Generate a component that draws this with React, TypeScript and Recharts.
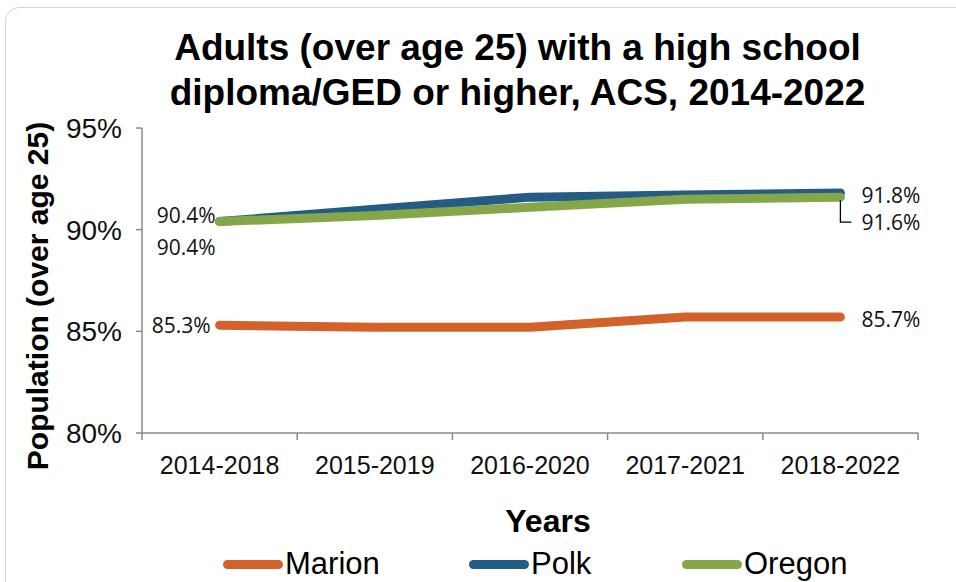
import React from 'react';
import { LineChart, Line, XAxis, YAxis, LabelList, Legend } from 'recharts';

const periods = ['2014-2018', '2015-2019', '2016-2020', '2017-2021', '2018-2022'];
const marion = [85.3, 85.2, 85.2, 85.7, 85.7];
const polk = [90.4, 91.0, 91.6, 91.7, 91.8];
const oregon = [90.4, 90.7, 91.1, 91.5, 91.6];
const yTicks = [80, 85, 90, 95];

const COLORS = { Marion: '#D2622A', Polk: '#245C84', Oregon: '#86A64A' };
const AXIS = '#8a8a8a';
const BAND = 776 / periods.length;

const data = periods.map((p, i) => ({
  period: p,
  Marion: marion[i],
  Polk: polk[i],
  Oregon: oregon[i],
}));

const labelFont = { fontFamily: 'Open Sans, DejaVu Sans, sans-serif', fontSize: 21, fill: '#111' };

// edge labels only: first and last point of each series
const makeLabel = (series: string) => (props: any) => {
  const { x, y, value, index } = props;
  const last = periods.length - 1;
  if (index !== 0 && index !== last) return null;
  const txt = `${Number(value).toFixed(1)}%`;
  if (index === 0) {
    const dx = series === 'Marion' ? -9 : -4;
    const dy = series === 'Oregon' ? 25 : series === 'Polk' ? -7 : 0;
    return (
      <text x={x + dx} y={y + dy} textAnchor="end" dominantBaseline="central" {...labelFont}>
        {txt}
      </text>
    );
  }
  if (series === 'Oregon') {
    return (
      <g>
        <path d={`M${x},${y + 3} L${x},${y + 25} L${x + 11},${y + 25}`} stroke="#000" strokeWidth={1.3} fill="none" />
        <text x={x + 21} y={y + 25} dominantBaseline="central" {...labelFont}>{txt}</text>
      </g>
    );
  }
  return (
    <text x={x + 21} y={y + 2} dominantBaseline="central" {...labelFont}>{txt}</text>
  );
};

// x ticks sit on category boundaries, labels in the middle
const XTick = (props: any) => {
  const { x, y, payload, index } = props;
  const half = BAND / 2;
  return (
    <g>
      <line x1={x - half} y1={y - 8} x2={x - half} y2={y - 1} stroke={AXIS} strokeWidth={1.5} />
      {index === periods.length - 1 && (
        <line x1={x + half} y1={y - 8} x2={x + half} y2={y - 1} stroke={AXIS} strokeWidth={1.5} />
      )}
      <text x={x} y={y + 24} textAnchor="middle" dominantBaseline="central"
        fontFamily="Liberation Sans, Arial, sans-serif" fontSize={25} fill="#111">
        {payload.value}
      </text>
    </g>
  );
};

const legendItems = ['Marion', 'Polk', 'Oregon'] as const;
const legendX = [223, 469, 682];

const LegendContent = () => (
  <div style={{ position: 'relative', height: 40 }}>
    {legendItems.map((name, i) => (
      <div key={name} style={{ position: 'absolute', left: legendX[i], top: 0, display: 'flex', alignItems: 'center', height: 40 }}>
        <div style={{ width: 60, height: 9, borderRadius: 5, background: COLORS[name] }} />
        <span style={{ fontFamily: 'Liberation Sans, Arial, sans-serif', fontSize: 31, color: '#000', marginLeft: 2 }}>
          {name}
        </span>
      </div>
    ))}
  </div>
);

export default function App() {
  return (
    <div style={{ position: 'fixed', left: 0, top: 0, width: 956, height: 582, background: '#fff', overflow: 'hidden' }}>
      <div style={{ position: 'absolute', left: 5, top: 7, width: 980, height: 600, border: '1.5px solid #d4d4d4', borderRadius: 14 }} />
      <div style={{ position: 'absolute', left: 0, top: 25, width: 1035, textAlign: 'center', fontFamily: 'Liberation Sans, Arial, sans-serif', fontWeight: 'bold', fontSize: 37, lineHeight: '45px', color: '#000' }}>
        Adults (over age 25) with a high school<br />diploma/GED or higher, ACS, 2014-2022
      </div>
      <div style={{ position: 'absolute', left: 38, top: 296, transform: 'translate(-50%, -50%) rotate(-90deg)', whiteSpace: 'nowrap', fontFamily: 'Liberation Sans, Arial, sans-serif', fontWeight: 'bold', fontSize: 30, color: '#000' }}>
        Population (over age 25)
      </div>
      <div style={{ position: 'absolute', left: 548, top: 521, transform: 'translate(-50%, -50%)', fontFamily: 'Liberation Sans, Arial, sans-serif', fontWeight: 'bold', fontSize: 32, color: '#000' }}>
        Years
      </div>
      <LineChart width={956} height={582} data={data} margin={{ top: 128, right: 38, bottom: 79, left: 62 }} style={{ position: 'absolute', left: 0, top: 0 }}>
        <XAxis dataKey="period" height={30} stroke={AXIS} strokeWidth={1.5} tickLine={false} tick={<XTick />} interval={0}
          padding={{ left: BAND / 2, right: BAND / 2 }} />
        <YAxis domain={[80, 95]} ticks={yTicks} width={80} stroke={AXIS} strokeWidth={1.5}
          tickLine={{ stroke: AXIS, strokeWidth: 1.5 }} tickSize={6} tickMargin={14}
          tickFormatter={(v: number) => `${v}%`}
          tick={{ fontFamily: 'Liberation Sans, Arial, sans-serif', fontSize: 28, fill: '#111' }} />
        <Legend verticalAlign="bottom" content={<LegendContent />} wrapperStyle={{ left: 0, top: 544, width: 956 }} />
        <Line dataKey="Marion" stroke={COLORS.Marion} strokeWidth={9} strokeLinecap="round" strokeLinejoin="round" dot={false} isAnimationActive={false}>
          <LabelList dataKey="Marion" content={makeLabel('Marion')} />
        </Line>
        <Line dataKey="Polk" stroke={COLORS.Polk} strokeWidth={9} strokeLinecap="round" strokeLinejoin="round" dot={false} isAnimationActive={false}>
          <LabelList dataKey="Polk" content={makeLabel('Polk')} />
        </Line>
        <Line dataKey="Oregon" stroke={COLORS.Oregon} strokeWidth={9} strokeLinecap="round" strokeLinejoin="round" dot={false} isAnimationActive={false}>
          <LabelList dataKey="Oregon" content={makeLabel('Oregon')} />
        </Line>
      </LineChart>
    </div>
  );
}
